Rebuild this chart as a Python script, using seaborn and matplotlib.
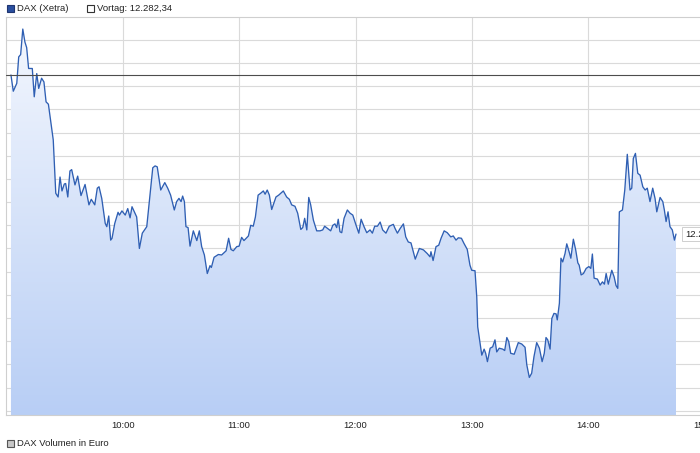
import matplotlib
matplotlib.use("Agg")
import matplotlib.pyplot as plt
import matplotlib.dates as mdates
from matplotlib.colors import LinearSegmentedColormap
from matplotlib.patches import Rectangle, Polygon
import seaborn as sns
import numpy as np
import pandas as pd

# minutes after 09:00 and DAX level
minutes = [2.4, 3.6, 5.4, 6.4, 7.4, 8.5, 9.6, 10.5, 11.5, 13.4, 14.4, 15.7, 16.7, 18.2, 19.4, 20.5, 21.7,
           24.2, 25.5, 26.7, 27.7, 28.7, 29.9, 30.6, 31.7, 32.8, 33.7, 35.4, 36.8, 38.5, 40.6, 42.6, 43.8,
           45.6, 46.9, 47.8, 49.2, 51.0, 51.8, 52.8, 53.8, 54.5, 55.9, 57.6, 58.3, 59.6, 61.3, 62.6, 63.8,
           64.8, 66.0, 67.2, 68.6, 70.1, 72.4, 75.5, 76.7, 77.8, 79.6, 81.7, 83.2, 84.7, 86.6, 87.8, 89.0,
           90.1, 90.9, 91.8, 92.6, 93.7, 94.7, 96.4, 98.2, 99.5, 100.7, 102.1, 103.6, 105.0, 105.7, 107.1,
           109.3, 111.0, 113.3, 114.6, 115.8, 117.0, 118.8, 120.0, 121.3, 122.5, 124.8, 126.0, 127.3, 128.4,
           129.8, 131.1, 132.5, 133.4, 134.5, 135.6, 136.8, 139.0, 140.4, 141.5, 142.8, 144.5, 145.9, 147.1,
           148.8, 150.2, 151.8, 152.8, 153.8, 154.9, 155.9, 156.9, 158.3, 160.0, 161.7, 163.1, 164.1, 166.0,
           167.2, 168.3, 169.4, 170.3, 171.1, 172.0, 172.9, 174.1, 175.8, 177.2, 178.6, 180.3, 181.7, 182.9,
           184.4, 185.8, 187.5, 188.7, 189.9, 191.3, 192.7, 194.0, 195.7, 197.4, 199.5, 200.4, 201.6, 203.0,
           204.7, 205.9, 207.2, 208.6, 209.8, 210.8, 211.9, 212.9, 215.0, 217.0, 218.4, 218.9, 220.0, 221.5,
           222.9, 224.1, 225.7, 227.3, 229.1, 230.4, 231.8, 233.0, 234.6, 235.9, 237.6, 239.0, 239.9, 241.6,
           242.5, 243.0, 244.2, 245.1, 246.3, 247.1, 248.0, 249.4, 250.7, 251.9, 252.8, 254.1, 255.9, 256.9,
           258.0, 259.0, 260.0, 261.8, 263.9, 265.7, 267.4, 268.3, 269.6, 270.8, 272.0, 273.4, 274.8, 276.2,
           277.3, 278.2, 279.1, 280.3, 281.2, 282.3, 283.4, 284.0, 285.1, 285.9, 286.8, 288.0, 288.9, 290.1,
           291.0, 292.3, 293.5, 294.6, 295.3, 296.3, 297.5, 298.9, 300.3, 301.3, 302.1, 303.0, 304.7, 306.1,
           307.3, 308.3, 309.2, 310.3, 312.1, 313.3, 314.3, 315.2, 316.0, 317.6, 318.8, 320.1, 321.5, 322.4,
           323.2, 324.3, 325.5, 326.7, 328.1, 329.3, 330.4, 331.8, 333.2, 334.4, 335.3, 337.0, 338.4, 339.2,
           340.1, 341.1, 342.1, 343.3, 344.4, 345.2]
values = [12282.4, 12278.9, 12280.6, 12286.3, 12286.8, 12292.3, 12289.5, 12288.3, 12283.8, 12283.8, 12277.7,
          12282.7, 12279.5, 12281.7, 12280.9, 12276.6, 12276.1, 12268.4, 12256.9, 12256.1, 12260.4, 12257.4,
          12258.9, 12259.0, 12256.1, 12261.7, 12262.0, 12258.7, 12260.6, 12256.4, 12258.8, 12254.4, 12255.6,
          12254.4, 12258.0, 12258.3, 12255.8, 12250.4, 12249.7, 12252.0, 12246.8, 12247.2, 12250.4, 12252.8,
          12252.2, 12253.1, 12252.2, 12253.6, 12251.6, 12254.0, 12252.9, 12251.8, 12245.0, 12248.3, 12249.7,
          12262.4, 12262.8, 12262.6, 12257.6, 12259.2, 12258.0, 12256.5, 12253.3, 12255.1, 12255.8, 12255.1,
          12256.3, 12255.1, 12249.7, 12249.5, 12245.5, 12248.8, 12246.7, 12248.8, 12245.4, 12243.6, 12239.6,
          12241.3, 12240.9, 12243.1, 12243.7, 12243.6, 12244.5, 12247.2, 12244.8, 12244.5, 12245.4, 12245.5,
          12247.4, 12246.7, 12247.7, 12250.0, 12249.8, 12251.8, 12256.5, 12256.9, 12257.4, 12256.7, 12257.6,
          12256.5, 12253.4, 12256.1, 12256.5, 12256.9, 12257.4, 12256.1, 12255.6, 12254.4, 12254.1, 12252.6,
          12249.1, 12249.5, 12251.5, 12249.0, 12256.0, 12254.4, 12251.1, 12248.8, 12248.8, 12249.0, 12249.8,
          12249.2, 12248.8, 12250.0, 12250.3, 12249.5, 12251.3, 12248.6, 12248.4, 12251.5, 12253.3, 12252.6,
          12252.2, 12250.0, 12248.3, 12251.3, 12249.7, 12248.4, 12249.0, 12248.3, 12249.8, 12249.8, 12250.7,
          12249.0, 12248.3, 12249.8, 12250.2, 12249.3, 12248.3, 12249.3, 12250.3, 12247.5, 12246.4, 12246.2,
          12244.3, 12242.7, 12243.9, 12245.0, 12244.7, 12243.9, 12243.2, 12244.3, 12242.4, 12245.4, 12245.7,
          12247.2, 12248.8, 12248.4, 12247.5, 12247.7, 12246.8, 12247.3, 12247.2, 12246.1, 12244.8, 12241.4,
          12240.3, 12240.2, 12234.6, 12228.1, 12224.6, 12222.0, 12223.3, 12222.4, 12220.6, 12223.5, 12223.8,
          12225.3, 12222.7, 12223.5, 12223.3, 12223.0, 12225.8, 12224.9, 12222.4, 12222.2, 12224.7, 12224.4,
          12223.7, 12219.9, 12217.2, 12218.1, 12221.7, 12224.7, 12223.5, 12220.6, 12222.4, 12225.8, 12225.3,
          12223.3, 12229.9, 12231.0, 12230.9, 12229.6, 12233.2, 12242.9, 12242.1, 12243.9, 12246.0, 12244.3,
          12242.9, 12247.0, 12244.7, 12241.9, 12241.4, 12239.3, 12239.6, 12240.7, 12241.1, 12240.7, 12243.8,
          12238.6, 12238.4, 12237.1, 12237.8, 12237.3, 12239.6, 12237.3, 12240.3, 12238.9, 12237.0, 12236.4,
          12252.9, 12253.3, 12257.6, 12265.3, 12257.6, 12258.0, 12264.4, 12265.5, 12261.2, 12260.8, 12258.3,
          12257.6, 12258.0, 12255.1, 12258.0, 12255.8, 12252.9, 12256.0, 12255.1, 12253.3, 12250.8, 12252.9,
          12249.7, 12249.0, 12246.8, 12248.1]
prev_close = 12282.34
hour_labels = ["10:00", "11:00", "12:00", "13:00", "14:00", "15:00"]

W, H = 700, 453
sns.set_style("white")
plt.rcParams["font.family"] = ["Liberation Sans", "DejaVu Sans"]

base = pd.Timestamp("2019-06-03 09:00")
df = pd.DataFrame({"time": base + pd.to_timedelta(minutes, unit="m"), "DAX": values})

fig = plt.figure(figsize=(W / 100, H / 100), dpi=100)
# plot area: 09:00 at x=6px, one hour = 116.4px, runs past the right edge (cropped like the original)
ax = fig.add_axes([6.3 / W, 1 - 415 / H, 116.4 * 6.5 / W, 398 / H])

y_lo, y_hi = 12209.1, 12294.9
x_lo, x_hi = base, base + pd.Timedelta(hours=6.5)

# gradient area under the line
xn = mdates.date2num(df["time"])
poly_x = np.concatenate([[xn[0]], xn, [xn[-1]]])
poly_y = np.concatenate([[y_lo], df["DAX"], [y_lo]])
poly = Polygon(np.column_stack([poly_x, poly_y]), closed=True, facecolor="none", edgecolor="none")
ax.add_patch(poly)
cmap = LinearSegmentedColormap.from_list("fill", ["#f5f8fe", "#b8cef5"])
grad = np.linspace(0, 1, 256).reshape(-1, 1)
img = ax.imshow(grad, cmap=cmap, aspect="auto", origin="upper",
                extent=[mdates.date2num(x_lo), mdates.date2num(x_hi), y_lo, y_hi], zorder=1)
img.set_clip_path(poly)

sns.lineplot(data=df, x="time", y="DAX", ax=ax, color="#2f5fb3", linewidth=0.95, zorder=3)
ax.axhline(prev_close, color="#4d4d4d", linewidth=0.8, zorder=4)

ax.set_xlim(x_lo, x_hi)
ax.set_ylim(y_lo, y_hi)
ax.set_yticks(np.arange(12210, 12295, 5))
ax.set_yticklabels([])
ticks = [base + pd.Timedelta(hours=h) for h in range(1, 7)]
ax.set_xticks(ticks)
ax.set_xticklabels(hour_labels)
ax.tick_params(axis="x", length=0, pad=4, labelsize=6.8, labelcolor="#222222")
ax.tick_params(axis="y", length=0)
ax.grid(True, color="#dadada", linewidth=0.8, zorder=0)
ax.set_axisbelow(True)
ax.set_xlabel("")
ax.set_ylabel("")
for side in ["left", "top", "bottom"]:
    ax.spines[side].set_color("#cfcfcf")
    ax.spines[side].set_linewidth(0.8)
ax.spines["right"].set_visible(False)

# last value label
ax.annotate("12.248,09", xy=(xn[-1], values[-1]), xytext=(9, 0), textcoords="offset pixels",
            va="center", ha="left", fontsize=6.8, color="#222222",
            bbox=dict(boxstyle="square,pad=0.3", facecolor="white", edgecolor="#c8c8c8", linewidth=0.6),
            zorder=6, annotation_clip=False)


def legend_box(x, y, face, edge, label):
    fig.add_artist(Rectangle((x / W, 1 - (y + 7) / H), 7 / W, 7 / H, transform=fig.transFigure,
                             facecolor=face, edgecolor=edge, linewidth=0.8))
    fig.text((x + 10) / W, 1 - (y + 3.5) / H, label, fontsize=6.8, color="#222222",
             va="center", ha="left")


legend_box(7, 5, "#2a4f9f", "#1f3570", "DAX (Xetra)")
legend_box(87, 5, "white", "#333333", "Vortag: 12.282,34")
legend_box(7, 440, "#c8c8c8", "#555555", "DAX Volumen in Euro")

fig.savefig("out.png", dpi=100)
